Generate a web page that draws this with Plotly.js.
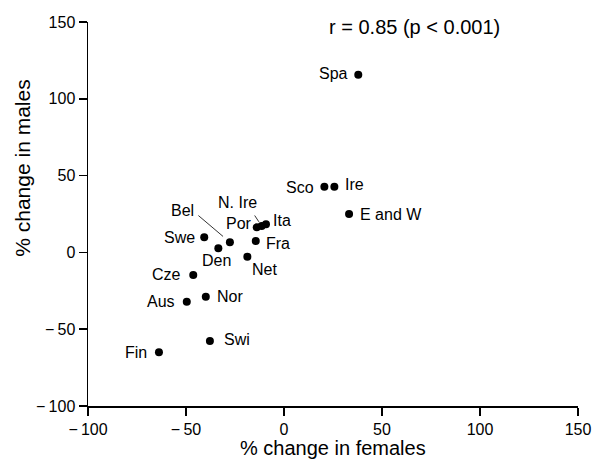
<!DOCTYPE html>
<html>
<head>
<meta charset="utf-8">
<script src="https://cdn.plot.ly/plotly-3.0.1.min.js"></script>
<style>html,body{margin:0;padding:0;background:#fff;}#chart{width:595px;height:462px;}</style>
</head>
<body>
<div id="chart"></div>
<script>
// ---- data ----
const countries = ["Spa","Sco","Ire","E and W","Por","N. Ire","Ita","Swe","Bel","Den","Fra","Net","Cze","Nor","Aus","Swi","Fin"];
const femaleChange = [37.9, 20.6, 25.7, 33.2, -13.9, -11.4, -9.2, -40.7, -27.6, -33.5, -14.4, -18.7, -46.3, -39.9, -49.6, -37.8, -63.8];
const maleChange   = [115.7, 42.8, 42.8, 25.0, 16.3, 17.2, 18.3, 9.8, 6.6, 2.7, 7.4, -2.8, -14.7, -28.8, -32.1, -57.7, -65.0];
const tickValues = [-100, -50, 0, 50, 100, 150];
const statText = "r = 0.85 (p < 0.001)";
const xTitle = "% change in females";
const yTitle = "% change in males";

// ---- label placement (pixel offsets from each point) ----
const placement = {
  "Spa":     {anchor:"right",  dx:-8,   dy:1},
  "Sco":     {anchor:"right",  dx:-8,   dy:-1},
  "Ire":     {anchor:"left",   dx:9,    dy:2},
  "E and W": {anchor:"left",   dx:9,    dy:0},
  "Por":     {anchor:"right",  dx:-3,   dy:4},
  "N. Ire":  {anchor:"center", dx:-24,  dy:23, leader:{tx:-8, ty:-12, standoff:5}},
  "Ita":     {anchor:"left",   dx:5,    dy:4},
  "Swe":     {anchor:"right",  dx:-7,   dy:0},
  "Bel":     {anchor:"center", dx:-47,  dy:32, leader:{tx:-33, ty:-28, standoff:9}},
  "Den":     {anchor:"center", dx:-2,   dy:-12},
  "Fra":     {anchor:"left",   dx:8,    dy:-2},
  "Net":     {anchor:"left",   dx:3,    dy:-13},
  "Cze":     {anchor:"right",  dx:-10,  dy:0},
  "Nor":     {anchor:"left",   dx:9,    dy:0},
  "Aus":     {anchor:"right",  dx:-10,  dy:0},
  "Swi":     {anchor:"left",   dx:12,   dy:2},
  "Fin":     {anchor:"right",  dx:-10,  dy:0}
};

const FONT = "Liberation Sans, Arial, Helvetica, sans-serif";
const tickText = tickValues.map(v => v < 0 ? "\u2212\u2009" + Math.abs(v) : String(v));

const annotations = [];
countries.forEach((c, i) => {
  const p = placement[c];
  annotations.push({
    x: femaleChange[i], y: maleChange[i], xref: "x", yref: "y",
    text: c, showarrow: false,
    xanchor: p.anchor, yanchor: "middle",
    xshift: p.dx, yshift: p.dy,
    font: {family: FONT, size: 16, color: "#000"}
  });
  if (p.leader) {
    annotations.push({
      x: femaleChange[i], y: maleChange[i], xref: "x", yref: "y",
      text: "", showarrow: true, arrowhead: 0, arrowwidth: 0.8, arrowcolor: "#000",
      ax: p.leader.tx, ay: p.leader.ty, standoff: p.leader.standoff,
      font: {size: 1}
    });
  }
});
annotations.push({
  xref: "paper", yref: "paper", x: 0.488, y: 0.987, xanchor: "left", yanchor: "middle",
  text: statText, showarrow: false, font: {family: FONT, size: 20, color: "#000"}
});
annotations.push({
  xref: "paper", yref: "paper", x: 0.5, y: -0.11, xanchor: "center", yanchor: "middle",
  text: xTitle, showarrow: false, font: {family: FONT, size: 20, color: "#000"}
});
annotations.push({
  xref: "paper", yref: "paper", x: -0.133, y: 0.62, xanchor: "center", yanchor: "middle",
  text: yTitle, showarrow: false, textangle: -90, font: {family: FONT, size: 21, color: "#000"}
});

const trace = {
  x: femaleChange, y: maleChange, text: countries,
  type: "scatter", mode: "markers",
  marker: {color: "#000", size: 8},
  hoverinfo: "text+x+y", cliponaxis: false
};

const axisCommon = {
  tickvals: tickValues, ticktext: tickText,
  showline: true, linecolor: "#000", linewidth: 1.5,
  ticks: "outside", ticklen: 8, tickwidth: 1.5, tickcolor: "#000",
  showgrid: false, zeroline: false,
  tickfont: {family: FONT, size: 16, color: "#000"},
  fixedrange: true
};

const layout = {
  width: 595, height: 462,
  margin: {l: 88, r: 17, t: 22, b: 56},
  paper_bgcolor: "#fff", plot_bgcolor: "#fff",
  showlegend: false,
  xaxis: Object.assign({}, axisCommon, {range: [-100, 150]}),
  yaxis: Object.assign({}, axisCommon, {range: [-100, 150]}),
  annotations: annotations
};

Plotly.newPlot("chart", [trace], layout, {displayModeBar: false, staticPlot: true});
</script>
</body>
</html>
